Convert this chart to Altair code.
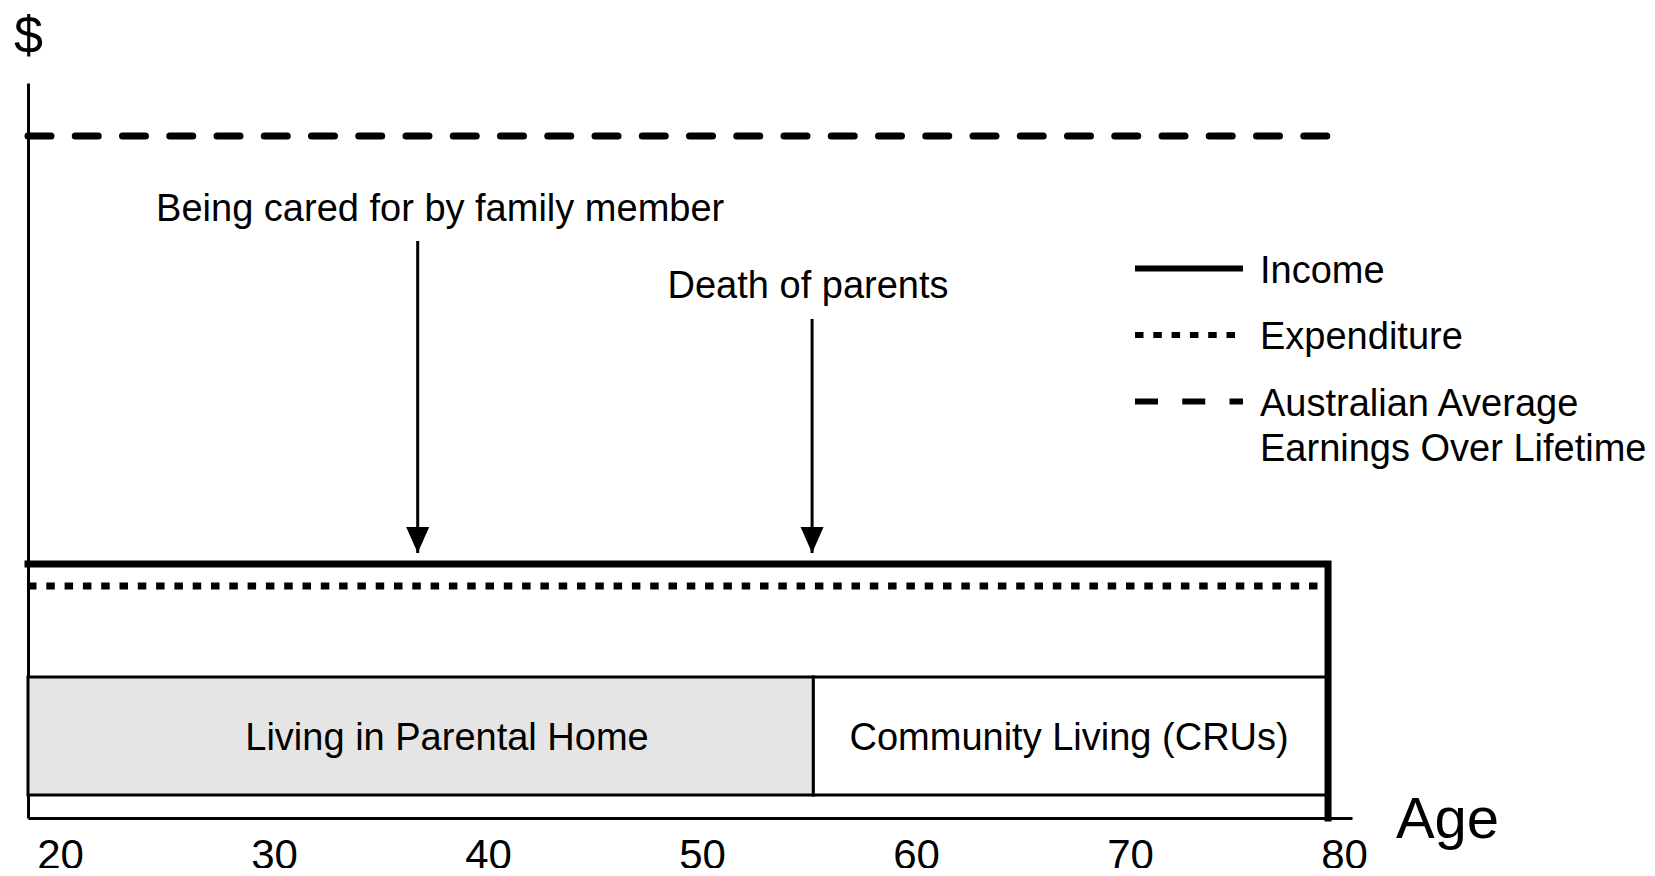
import altair as alt
import pandas as pd

FONT = "Liberation Sans"

# ---- data (age on x, dollars in arbitrary units on y) ----
age_ticks = [20, 30, 40, 50, 60, 70, 80]
x_domain = [18.5, 80.37]
y_domain = [0, 100]

series = ["Income", "Expenditure", "Australian Average Earnings Over Lifetime"]
series_dash = [[1, 0], [8.5, 9.8], [23, 24.25]]

income_age = [18.5, 79.25, 79.25]
income_val = [34.56, 34.56, 0]
expend_age = [18.5, 79.25]
expend_val = [31.56, 31.56]
avg_age = [18.5, 79.2]
avg_val = [92.8, 92.8]

phase_labels = ["Living in Parental Home", "Community Living (CRUs)"]
phase_start = [18.5, 55.2]
phase_end = [55.2, 79.25]
phase_low = [3.13, 3.13]
phase_high = [19.18, 19.18]
phase_fill = ["#e5e5e5", "#ffffff"]
phase_label_age = [38.08, 67.15]
phase_label_val = [9.31, 9.31]

event_labels = ["Being cared for by family member", "Death of parents"]
event_label_age = [37.76, 54.95]
event_label_val = [81.2, 70.75]
event_age = [36.71, 55.14]
arrow_top = [78.5, 67.9]
arrow_tip = [36.05, 36.05]

# ---- tables ----
income_df = pd.DataFrame({"age": income_age, "val": income_val,
                          "step": list(range(len(income_age))), "series": series[0]})
expend_df = pd.DataFrame({"age": expend_age, "val": expend_val, "series": series[1]})
avg_df = pd.DataFrame({"age": avg_age, "val": avg_val, "series": series[2]})
phase_df = pd.DataFrame({"label": phase_labels, "start": phase_start, "end": phase_end,
                         "low": phase_low, "high": phase_high, "fill": phase_fill,
                         "lx": phase_label_age, "ly": phase_label_val})
event_df = pd.DataFrame({"label": event_labels, "lx": event_label_age, "ly": event_label_val,
                         "age": event_age, "top": arrow_top, "tip": arrow_tip})

# ---- scales / guides ----
xs = alt.Scale(domain=x_domain, nice=False, zero=False)
ys = alt.Scale(domain=y_domain, nice=False, zero=False)
dash_scale = alt.Scale(domain=series, range=series_dash)

x_axis = alt.Axis(values=age_ticks, ticks=False, grid=False, domainColor="black",
                  domainWidth=3, labelFont=FONT, labelFontSize=42, labelColor="black",
                  labelPadding=17, labelFlush=False, labelOverlap=False,
                  title="Age", titleFont=FONT, titleFontSize=58, titleFontWeight="normal",
                  titleColor="black", titleX=1419, titleY=19, titleAlign="center",
                  titleBaseline="alphabetic")
y_axis = alt.Axis(labels=False, ticks=False, grid=False, domainColor="black",
                  domainWidth=3, title="$", titleFont=FONT, titleFontSize=52,
                  titleFontWeight="normal", titleColor="black", titleAngle=0,
                  titleX=0, titleY=-31, titleAlign="center", titleBaseline="alphabetic")

# legend symbol: a 108px horizontal stroke drawn by a custom path on a small symbol
legend = alt.Legend(
    title=None, orient="none", legendX=1098, legendY=150.5, padding=0,
    symbolType="M-1,1.6L9.8,1.6", symbolSize=400, symbolStrokeWidth=6,
    symbolStrokeColor="black", labelFont=FONT, labelFontSize=38, labelColor="black",
    labelLimit=0, labelBaseline="top", labelOffset=96, rowPadding=9.5,
    labelExpr="datum.label == 'Australian Average Earnings Over Lifetime' ? "
              "['Australian Average', 'Earnings Over Lifetime'] : datum.label",
)

X = lambda f: alt.X(f, type="quantitative", scale=xs, axis=x_axis)
Y = lambda f: alt.Y(f, type="quantitative", scale=ys, axis=y_axis)

rects = alt.Chart(phase_df).mark_rect(stroke="black", strokeWidth=3).encode(
    x=X("start"), x2="end", y=Y("low"), y2="high",
    fill=alt.Fill("fill:N", scale=None, legend=None),
)
phase_text = alt.Chart(phase_df).mark_text(
    font=FONT, fontSize=38, color="black", align="center", baseline="alphabetic"
).encode(x=X("lx"), y=Y("ly"), text="label:N")

dash_enc = alt.StrokeDash("series:N", scale=dash_scale, legend=legend)

expend_line = alt.Chart(expend_df).mark_line(
    color="black", strokeWidth=7, strokeCap="butt").encode(
    x=X("age"), y=Y("val"), strokeDash=dash_enc)
avg_line = alt.Chart(avg_df).mark_line(
    color="black", strokeWidth=7, strokeCap="round").encode(
    x=X("age"), y=Y("val"), strokeDash=dash_enc)
income_line = alt.Chart(income_df).mark_line(
    color="black", strokeWidth=7, strokeJoin="miter", strokeCap="square").encode(
    x=X("age"), y=Y("val"), order="step:Q", strokeDash=dash_enc)

shafts = alt.Chart(event_df).mark_rule(color="black", strokeWidth=3).encode(
    x=X("age"), y=Y("top"), y2="tip")
heads = alt.Chart(event_df).mark_point(
    shape="M-0.885,-2L0.885,-2L0,0Z", size=676, filled=True, color="black",
    opacity=1, strokeWidth=0).encode(x=X("age"), y=Y("tip"))
event_text = alt.Chart(event_df).mark_text(
    font=FONT, fontSize=38, color="black", align="center", baseline="alphabetic"
).encode(x=X("lx"), y=Y("ly"), text="label:N")

chart = alt.layer(
    rects, phase_text, expend_line, avg_line, income_line, shafts, heads, event_text
).properties(
    width=1324, height=735,
    autosize=alt.AutoSizeParams(type="none"),
    padding={"left": 20, "top": 75, "right": 295, "bottom": 50},
    background="white",
).configure(
    style={"guide-label": {"lineHeight": 45}},
    view=alt.ViewConfig(stroke=None),
)

chart.save("out.html", embed_options={"renderer": "svg", "actions": False})
